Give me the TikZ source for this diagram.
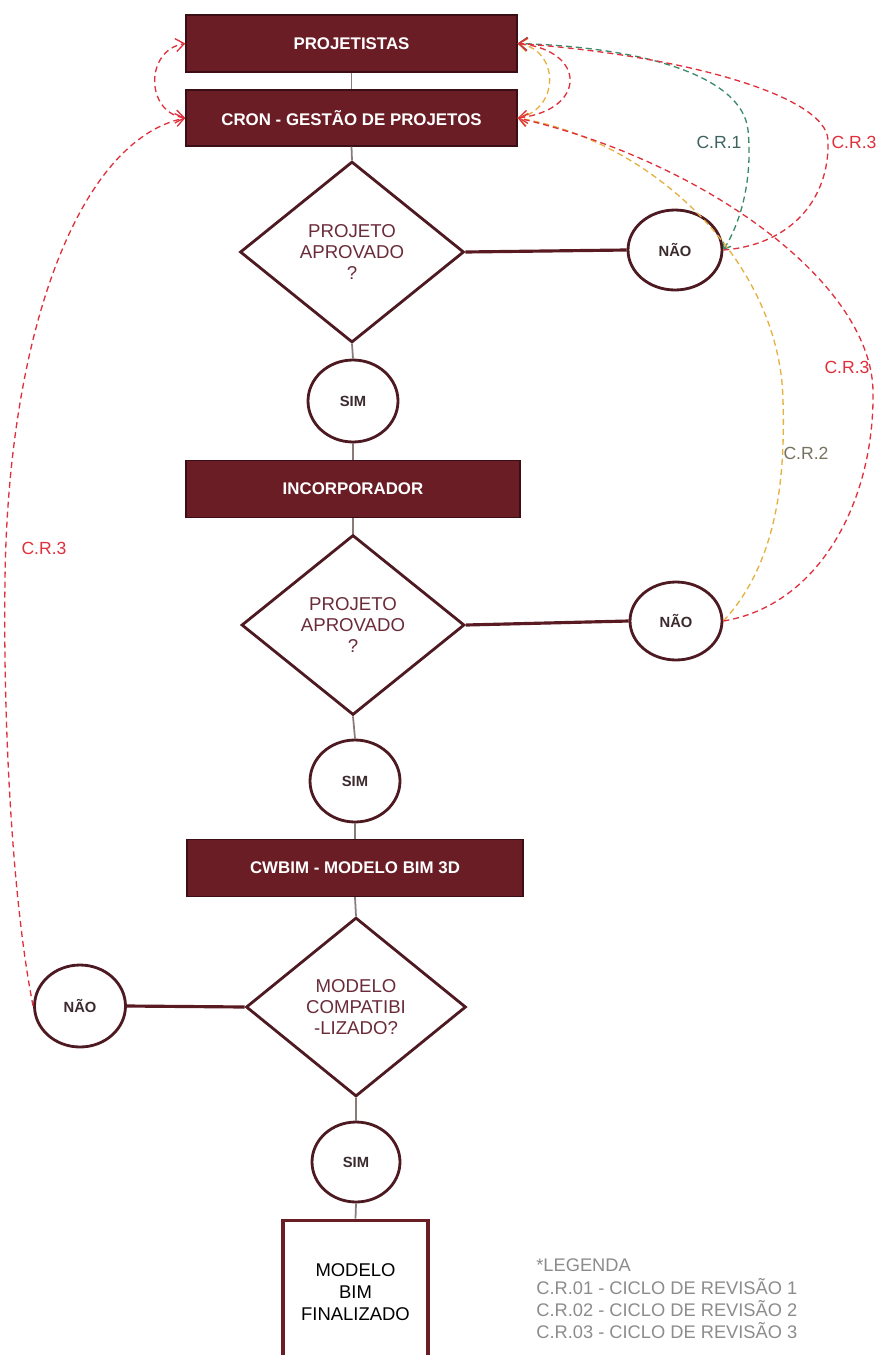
\documentclass[tikz,border=0pt]{standalone}
\usepackage{fontspec}
\setmainfont{Liberation Sans}
\usetikzlibrary{shapes.geometric,arrows.meta}

\definecolor{boxfill}{HTML}{6B1D26}
\definecolor{boxedge}{HTML}{3A0E14}
\definecolor{shapeedge}{HTML}{4E1A22}
\definecolor{dectext}{HTML}{6B2C3A}
\definecolor{anstext}{HTML}{3B2A2E}
\definecolor{flowgray}{HTML}{8A7A7A}
\definecolor{nolink}{HTML}{5A1A22}
\definecolor{cyred}{HTML}{E0303C}
\definecolor{cygreen}{HTML}{3A8A6A}
\definecolor{cyyellow}{HTML}{E6B040}
\definecolor{lblgreen}{HTML}{3D6360}
\definecolor{lblolive}{HTML}{77725E}
\definecolor{legendgray}{HTML}{8C8C8C}

\tikzset{
  procbox/.style={rectangle, fill=boxfill, draw=boxedge, line width=0.8pt,
    text=white, font=\bfseries\fontsize{9.6}{11}\selectfont,
    minimum height=1.14cm, inner sep=0pt},
  decision/.style={diamond, draw=shapeedge, line width=1.6pt, fill=white,
    text=dectext, font=\fontsize{10.6}{11.9}\selectfont, align=center,
    inner sep=0pt, minimum width=4.46cm, minimum height=3.6cm},
  answer/.style={ellipse, draw=shapeedge, line width=1.6pt, fill=white,
    text=anstext, font=\bfseries\fontsize{8.4}{10}\selectfont,
    inner sep=0pt, minimum width=1.82cm, minimum height=1.62cm},
  flow/.style={draw=flowgray, line width=1pt},
  nolink/.style={draw=nolink, line width=1.8pt},
  cycle/.style={line width=0.75pt, dash pattern=on 0.12cm off 0.08cm,
    arrows={-Straight Barb[length=0.17cm,width=0.26cm]}},
  cyclelbl/.style={font=\fontsize{10}{12}\selectfont, inner sep=0pt},
}

\begin{document}
\begin{tikzpicture}[x=0.02cm,y=-0.02cm]
\clip (0,0) rectangle (880,1355);
\fill[white] (0,0) rectangle (880,1355);

% main column
\node[procbox, minimum width=6.62cm] (proj) at (351.5,43.5) {PROJETISTAS};
\node[procbox, minimum width=6.62cm, minimum height=1.12cm] (cron) at (351.5,118) {CRON - GESTÃO DE PROJETOS};
\node[decision, minimum width=4.48cm, minimum height=3.62cm] (d1) at (352,252) {PROJETO\\APROVADO\\?};
\node[answer, minimum width=1.88cm, minimum height=1.6cm] (no1) at (675,250) {NÃO};
\node[answer, minimum width=1.8cm, minimum height=1.64cm] (sim1) at (353,401) {SIM};
\node[procbox, minimum width=6.68cm] (inc) at (353,489) {INCORPORADOR};
\node[decision] (d2) at (353,625) {PROJETO\\APROVADO\\?};
\node[answer, minimum width=1.84cm, minimum height=1.56cm] (no2) at (676,621) {NÃO};
\node[answer, minimum width=1.8cm, minimum height=1.64cm] (sim2) at (355,781) {SIM};
\node[procbox, minimum width=6.72cm] (cwb) at (355,868) {CWBIM - MODELO BIM 3D};
\node[decision, minimum width=4.4cm, minimum height=3.58cm] (d3) at (356,1007) {MODELO\\COMPATIBI\\-LIZADO?};
\node[answer, minimum width=1.82cm, minimum height=1.64cm] (no3) at (80,1006) {NÃO};
\node[answer, minimum width=1.76cm, minimum height=1.6cm] (sim3) at (356,1162) {SIM};
\node[rectangle, draw=boxfill, line width=2.2pt, fill=white, minimum width=2.9cm,
  minimum height=2.86cm, inner sep=0pt, align=center, text=black,
  font=\fontsize{10.5}{12.4}\selectfont] (fin) at (355.5,1292) {MODELO\\BIM\\FINALIZADO};

% legend
\node[anchor=west, align=left, inner sep=0pt, text=legendgray,
  font=\fontsize{10.4}{12.75}\selectfont] (leg) at (536,1299)
  {*LEGENDA\\C.R.01 - CICLO DE REVISÃO 1\\C.R.02 - CICLO DE REVISÃO 2\\C.R.03 - CICLO DE REVISÃO 3};

% solid connectors
\draw[flow] (proj.south) -- (cron.north);
\draw[flow] (cron.south) -- (d1.north);
\draw[flow] (d1.south) -- (sim1.north);
\draw[flow] (sim1.south) -- (inc.north);
\draw[flow] (inc.south) -- (d2.north);
\draw[flow] (d2.south) -- (sim2.north);
\draw[flow] (sim2.south) -- (cwb.north);
\draw[flow] (cwb.south) -- (d3.north);
\draw[flow] (d3.south) -- (sim3.north);
\draw[flow] (sim3.south) -- (fin.north);
\draw[nolink] (d1.east) -- (no1.west);
\draw[nolink] (d2.east) -- (no2.west);
\draw[nolink] (d3.west) -- (no3.east);

% review cycles
\draw[cycle, cyred, arrows={Straight Barb[length=0.17cm,width=0.26cm]-Straight Barb[length=0.17cm,width=0.26cm]}]
  (cron.west) .. controls (145,112) and (145,50) .. (proj.west);
\draw[cycle, cyyellow] (cron.east) .. controls (560,110) and (560,50) .. (proj.east);
\draw[cycle, cyred, arrows={Straight Barb[length=0.17cm,width=0.26cm]-Straight Barb[length=0.17cm,width=0.26cm]}]
  (cron.east) .. controls (587,110) and (587,50) .. (proj.east);
\draw[cycle, cygreen, arrows={Straight Barb[length=0.12cm,width=0.18cm]-Straight Barb[length=0.17cm,width=0.26cm]}]
  (no1.east) .. controls (745,215) and (752,170) .. (748,130)
  .. controls (742,75) and (640,47) .. (proj.east);
\draw[cycle, cyred] (no1.east) .. controls (790,245) and (830,200) .. (828,140)
  .. controls (826,95) and (680,55) .. (proj.east);
\draw[cycle, cyyellow] (no2.east) .. controls (780,560) and (785,470) .. (783,400)
  .. controls (780,260) and (650,140) .. (cron.east);
\draw[cycle, cyred] (no2.east) .. controls (820,605) and (875,500) .. (873,390)
  .. controls (870,280) and (700,160) .. (cron.east);
\draw[cycle, cyred] (no3.west) .. controls (12,900) and (3,720) .. (5,580)
  .. controls (8,330) and (80,140) .. (cron.west);

% cycle labels
\node[cyclelbl, text=lblgreen] (l1) at (719,142) {C.R.1};
\node[cyclelbl, text=cyred] (l3a) at (854,142) {C.R.3};
\node[cyclelbl, text=cyred] (l3b) at (847,367) {C.R.3};
\node[cyclelbl, text=lblolive] (l2) at (806,453) {C.R.2};
\node[cyclelbl, text=cyred] (l3c) at (44,548) {C.R.3};
\end{tikzpicture}
\end{document}
